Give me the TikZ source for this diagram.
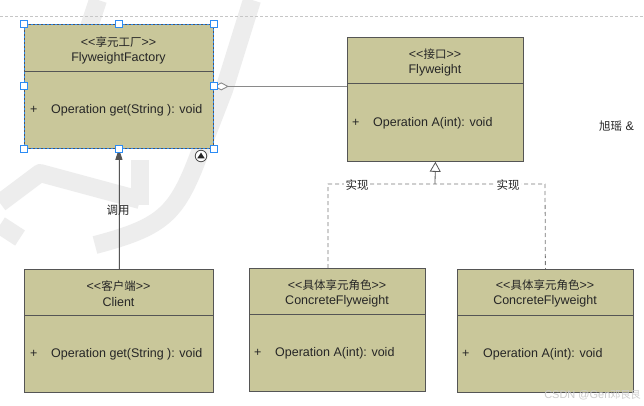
\documentclass[tikz,border=0pt]{standalone}
\usepackage{fontspec}
\setmainfont{Liberation Sans}
\newfontfamily\cjk[Scale=0.92]{Noto Sans CJK SC}
\usetikzlibrary{arrows.meta}
\newcommand\dlt{<\kern0pt<}
\newcommand\dgt{>\kern0pt>}
\definecolor{boxfill}{HTML}{C9C79A}
\definecolor{boxline}{HTML}{555555}
\definecolor{txt}{HTML}{262626}
\definecolor{selblue}{HTML}{2C8CF4}
\definecolor{wm}{HTML}{EDEDED}
\definecolor{aggrgray}{HTML}{8A8A8A}
\tikzset{
  umlbox/.style={draw=boxline, fill=boxfill, line width=0.8pt, anchor=north west, inner sep=0pt},
  divline/.style={draw=boxline, line width=0.8pt},
  lab/.style={text=txt, font=\fontsize{12.5}{14}\selectfont, inner sep=1pt},
  oplab/.style={lab, anchor=west},
  handle/.style={draw=selblue, fill=white, line width=0.8pt, minimum size=7pt, inner sep=0pt, rectangle},
  wmstroke/.style={draw=wm, line width=18pt, line cap=butt, line join=round},
  genline/.style={draw=boxline, line width=0.8pt},
  dashline/.style={draw=boxline!80, line width=0.8pt, dash pattern=on 4pt off 3pt},
}
\begin{document}
\begin{tikzpicture}[x=1pt,y=-1pt]
\useasboundingbox (0,0) rectangle (644,406);
\fill[white] (0,0) rectangle (644,406);
% watermark strokes
\draw[wmstroke] (98,0) -- (88,30);
\draw[wmstroke] (252,0) -- (224,90) -- (195,165) .. controls (175,215) and (160,228) .. (95,245);
\draw[wmstroke] (0,203) -- (40,173) -- (140,200);
\draw[wmstroke] (140,160) -- (140,205);
\draw[wmstroke] (0,225) -- (20,238);
% top dashed rule
\draw[gray!45, line width=0.5pt, dash pattern=on 3pt off 2pt] (0,16) -- (644,16);

% boxes
\node[umlbox, minimum width=189pt, minimum height=124pt] (fac) at (24,24) {};
\node[umlbox, minimum width=176pt, minimum height=124pt] (fly) at (347,37) {};
\node[umlbox, minimum width=189pt, minimum height=123pt] (cli) at (24,269) {};
\node[umlbox, minimum width=176pt, minimum height=123pt] (cf1) at (249,268) {};
\node[umlbox, minimum width=176pt, minimum height=123pt] (cf2) at (457,269) {};

% dividers
\draw[divline] ([yshift=-47pt]fac.north west) -- ([yshift=-47pt]fac.north east);
\draw[divline] ([yshift=-46pt]fly.north west) -- ([yshift=-46pt]fly.north east);
\draw[divline] ([yshift=-46pt]cli.north west) -- ([yshift=-46pt]cli.north east);
\draw[divline] ([yshift=-46pt]cf1.north west) -- ([yshift=-46pt]cf1.north east);
\draw[divline] ([yshift=-46pt]cf2.north west) -- ([yshift=-46pt]cf2.north east);

% texts: factory
\node[lab] (facst) at (118.5,42) {\dlt{\cjk 享元工厂}\dgt};
\node[lab] (facnm) at (118.5,58) {FlyweightFactory};
\node[oplab] (facpl) at (29,110) {+};
\node[oplab] (facop) at (50,110) {Operation get(String ): void};
% flyweight
\node[lab] (flyst) at (435,54) {\dlt{\cjk 接口}\dgt};
\node[lab] (flynm) at (435,70) {Flyweight};
\node[oplab] (flypl) at (351,123) {+};
\node[oplab] (flyop) at (372,123) {Operation A(int): void};
% client
\node[lab] (clist) at (118.5,286) {\dlt{\cjk 客户端}\dgt};
\node[lab] (clinm) at (118.5,302) {Client};
\node[oplab] (clipl) at (29,354) {+};
\node[oplab] (cliop) at (50,354) {Operation get(String ): void};
% concrete 1
\node[lab] (c1st) at (337,285) {\dlt{\cjk 具体享元角色}\dgt};
\node[lab] (c1nm) at (337,301) {ConcreteFlyweight};
\node[oplab] (c1pl) at (253,353) {+};
\node[oplab] (c1op) at (274,353) {Operation A(int): void};
% concrete 2
\node[lab] (c2st) at (545,285) {\dlt{\cjk 具体享元角色}\dgt};
\node[lab] (c2nm) at (545,301) {ConcreteFlyweight};
\node[oplab] (c2pl) at (461,354) {+};
\node[oplab] (c2op) at (482,354) {Operation A(int): void};

% aggregation
\draw[draw=aggrgray, line width=0.9pt, {Diamond[open, length=15pt, width=8pt, fill=white]}-] (fac.east) -- (fly.west |- fac.east);

% realization
\coordinate (jn) at (435,184);
\coordinate (dl) at (328,184);
\coordinate (dr) at (545,184);
\draw[dashline] (cf1.north -| dl) -- (dl) -- (dr) -- (cf2.north);
\draw[genline, -{Triangle[open, length=10pt, width=11pt, fill=white]}] (jn) -- (fly.south);
\node[lab, fill=white, inner sep=1.5pt] (rl1) at (357,185) {{\cjk 实现}};
\node[lab, fill=white, inner sep=1.5pt] (rl2) at (508,185) {{\cjk 实现}};

% call
\draw[genline, -{Triangle[length=11pt, width=7pt]}, draw=boxline, fill=black!80] (cli.north) -- (fac.south);
\node[lab] (call) at (118,210) {{\cjk 调用}};

% selection
\draw[selblue, line width=0.8pt, dash pattern=on 2pt off 2pt] (fac.north west) rectangle (fac.south east);
\foreach \p [count=\i] in {north west, north, north east, west, east, south west, south, south east}
  \node[handle] (h\i) at (fac.\p) {};
\node[circle, draw=black!70, line width=0.8pt, fill=white, minimum size=11.5pt, inner sep=0pt] (tog) at (201,156) {};
\fill[black!85] (197.3,158.3) -- (204.7,158.3) -- (201,152.6) -- cycle;

% side texts
\node[lab, anchor=west] (author) at (598,126) {{\cjk 旭瑶} \&};
\node[anchor=east, text=gray!40, font=\fontsize{11}{13}\selectfont, inner sep=0pt] (csdn) at (641,395) {CSDN @Gen{\cjk 邓艮艮}};
\end{tikzpicture}
\end{document}
